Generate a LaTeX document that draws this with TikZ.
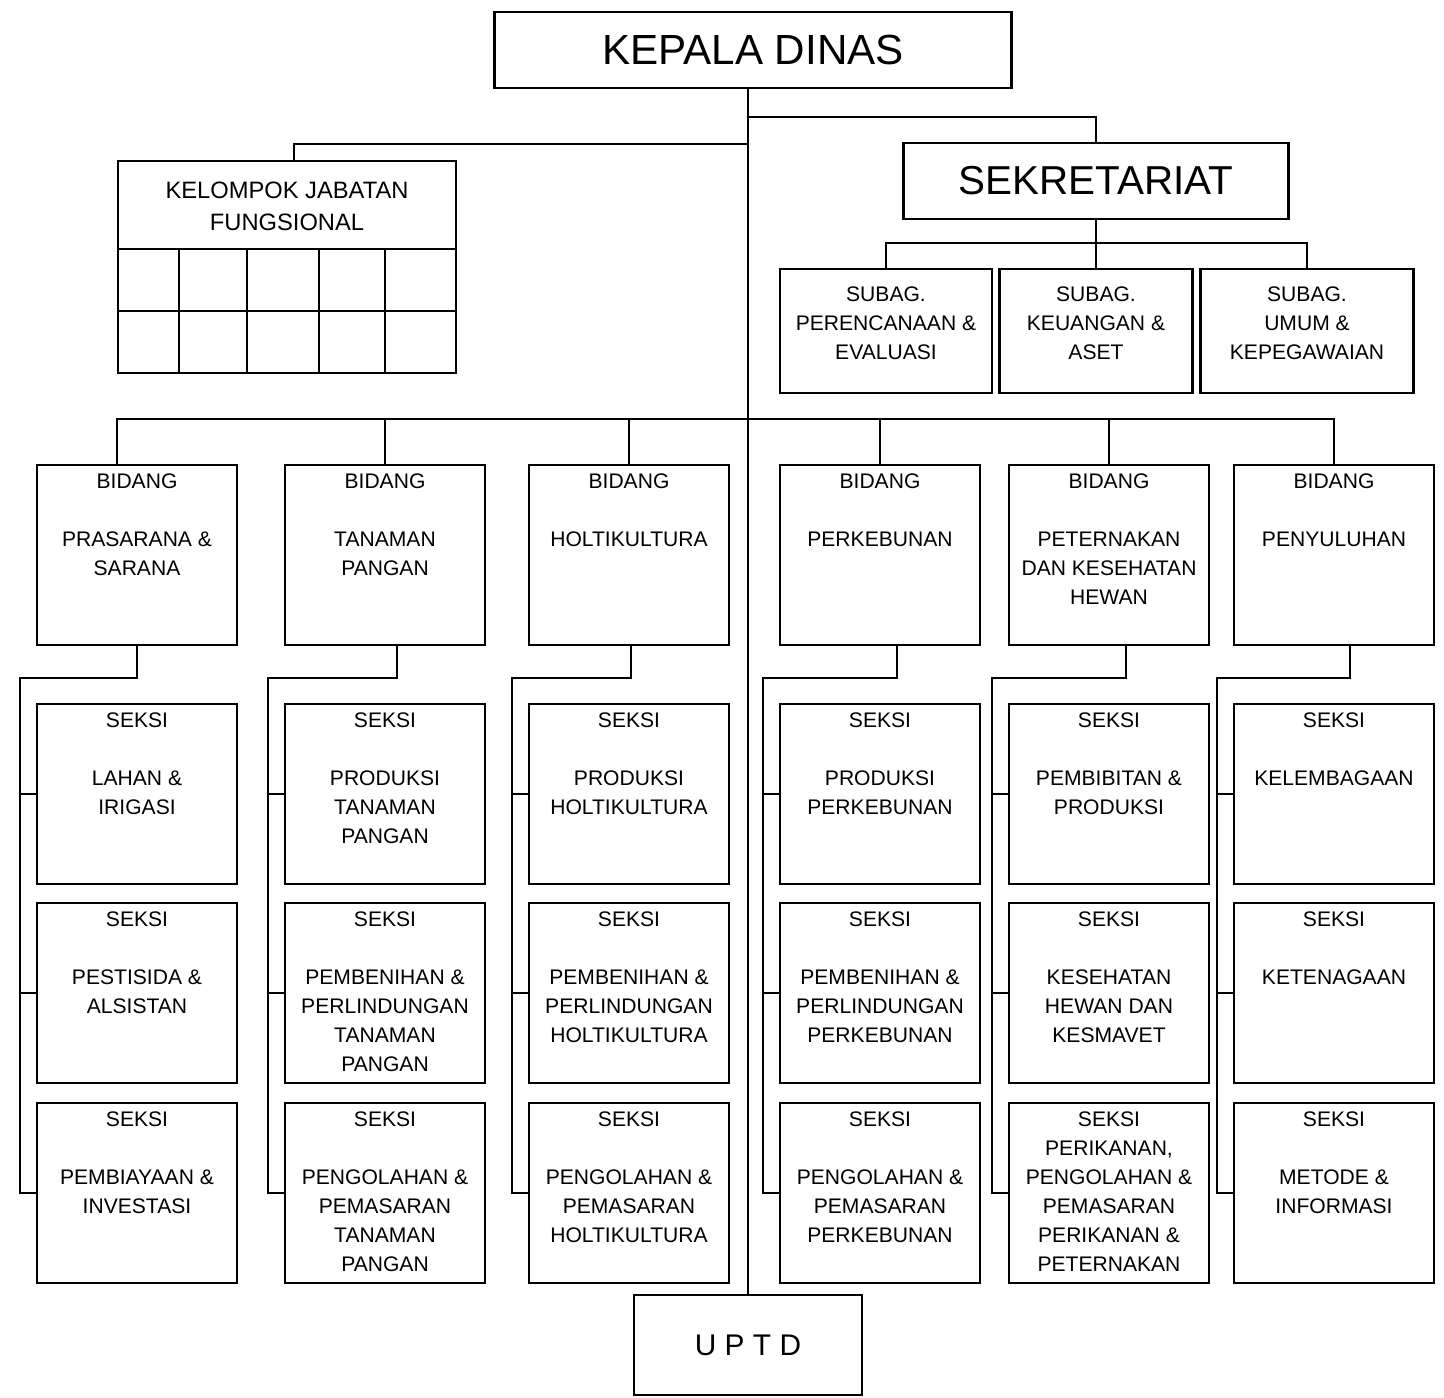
\documentclass[tikz,border=0pt]{standalone}
\usepackage{fontspec}
\setmainfont{Liberation Sans}

\begin{document}
\begin{tikzpicture}[
  x=0.02cm, y=-0.02cm,
  line width=1.4pt,
  utext/.style={anchor=north, yshift=-0.17cm, inner sep=0pt, align=center, font=\fontsize{12}{16.5}\selectfont},
  unit/.style={draw, minimum width=4cm, minimum height=3.6cm, inner sep=0pt, label={[utext]north:{#1}}},
  subag/.style={draw, minimum height=2.48cm, inner sep=0pt, label={[utext, yshift=-0.18cm]north:{#1}}},
  head/.style={draw, minimum height=1.52cm, inner sep=0pt},
]
\useasboundingbox (0,0) rectangle (1444,1398);

% Top level
\node[head, minimum width=10.34cm, font=\fontsize{24}{28}\selectfont] (kepala) at (753,50) {KEPALA DINAS};
\node[draw, minimum width=4.56cm, minimum height=2cm, font=\fontsize{17}{20}\selectfont] (uptd) at (748,1345) {U P T D};
\draw (kepala.south -| uptd.north) -- (uptd.north);

% Kelompok jabatan fungsional
\node[draw, minimum width=6.76cm, minimum height=4.24cm, inner sep=0pt,
  label={[utext, yshift=-0.24cm, font=\fontsize{13.5}{18.2}\selectfont]north:{KELOMPOK JABATAN\\FUNGSIONAL}}] (kjf) at (287,267) {};
\draw (kjf.north west) ++(0,89) -- ++(338,0)
      (kjf.north west) ++(0,151) -- ++(338,0)
      (kjf.north west) ++(62,89) -- ++(0,123)
      (kjf.north west) ++(130,89) -- ++(0,123)
      (kjf.north west) ++(202,89) -- ++(0,123)
      (kjf.north west) ++(268,89) -- ++(0,123);
\coordinate (jkjf) at (748,144);
\draw (jkjf) -| ([xshift=0.14cm]kjf.north);

% Sekretariat and subbagian
\node[head, minimum width=7.7cm, font=\fontsize{23}{27}\selectfont] (sekre) at (1096,181) {SEKRETARIAT};
\coordinate (jsek) at (748,117);
\draw (jsek) -| (sekre.north);

\node[subag={SUBAG.\\PERENCANAAN \&\\EVALUASI}, minimum width=4.24cm] (subren) at (886,331) {};
\node[subag={SUBAG.\\KEUANGAN \&\\ASET}, minimum width=3.86cm] (subkeu) at (1096,331) {};
\node[subag={SUBAG.\\UMUM \&\\KEPEGAWAIAN}, minimum width=4.26cm] (subum) at (1307,331) {};
\coordinate (jsub) at (1096,243);
\draw (sekre.south) -- (subkeu.north);
\draw (subren.north) |- (jsub) -| (subum.north);

% Bidang
\node[unit={BIDANG\\[16.5pt]PRASARANA \&\\SARANA}] (b1) at (137,555) {};
\node[unit={BIDANG\\[16.5pt]TANAMAN\\PANGAN}] (b2) at (385,555) {};
\node[unit={BIDANG\\[16.5pt]HOLTIKULTURA}] (b3) at (629,555) {};
\node[unit={BIDANG\\[16.5pt]PERKEBUNAN}] (b4) at (880,555) {};
\node[unit={BIDANG\\[16.5pt]PETERNAKAN\\DAN KESEHATAN\\HEWAN}] (b5) at (1109,555) {};
\node[unit={BIDANG\\[16.5pt]PENYULUHAN}] (b6) at (1334,555) {};

\coordinate (bus) at (748,419);
\draw (b1.north) ++(-20,0) |- (b6.north |- bus) -- (b6.north);
\draw (b2.north) -- (b2.north |- bus);
\draw (b3.north) -- (b3.north |- bus);
\draw (b4.north) -- (b4.north |- bus);
\draw (b5.north) -- (b5.north |- bus);

% Seksi - Prasarana & Sarana
\node[unit={SEKSI\\[16.5pt]LAHAN \&\\IRIGASI}] (s11) at (137,794) {};
\node[unit={SEKSI\\[16.5pt]PESTISIDA \&\\ALSISTAN}] (s12) at (137,993) {};
\node[unit={SEKSI\\[16.5pt]PEMBIAYAAN \&\\INVESTASI}] (s13) at (137,1193) {};
\draw (b1.south) -- ++(0,32) -| ([xshift=-0.32cm]s13.west) -- (s13.west);
\draw (s11.west) -- ++(-16,0);
\draw (s12.west) -- ++(-16,0);

% Seksi - Tanaman Pangan
\node[unit={SEKSI\\[16.5pt]PRODUKSI\\TANAMAN\\PANGAN}] (s21) at (385,794) {};
\node[unit={SEKSI\\[16.5pt]PEMBENIHAN \&\\PERLINDUNGAN\\TANAMAN\\PANGAN}] (s22) at (385,993) {};
\node[unit={SEKSI\\[16.5pt]PENGOLAHAN \&\\PEMASARAN\\TANAMAN\\PANGAN}] (s23) at (385,1193) {};
\draw (b2.south) ++(12,0) -- ++(0,32) -| ([xshift=-0.32cm]s23.west) -- (s23.west);
\draw (s21.west) -- ++(-16,0);
\draw (s22.west) -- ++(-16,0);

% Seksi - Holtikultura
\node[unit={SEKSI\\[16.5pt]PRODUKSI\\HOLTIKULTURA}] (s31) at (629,794) {};
\node[unit={SEKSI\\[16.5pt]PEMBENIHAN \&\\PERLINDUNGAN\\HOLTIKULTURA}] (s32) at (629,993) {};
\node[unit={SEKSI\\[16.5pt]PENGOLAHAN \&\\PEMASARAN\\HOLTIKULTURA}] (s33) at (629,1193) {};
\draw (b3.south) ++(2,0) -- ++(0,32) -| ([xshift=-0.32cm]s33.west) -- (s33.west);
\draw (s31.west) -- ++(-16,0);
\draw (s32.west) -- ++(-16,0);

% Seksi - Perkebunan
\node[unit={SEKSI\\[16.5pt]PRODUKSI\\PERKEBUNAN}] (s41) at (880,794) {};
\node[unit={SEKSI\\[16.5pt]PEMBENIHAN \&\\PERLINDUNGAN\\PERKEBUNAN}] (s42) at (880,993) {};
\node[unit={SEKSI\\[16.5pt]PENGOLAHAN \&\\PEMASARAN\\PERKEBUNAN}] (s43) at (880,1193) {};
\draw (b4.south) ++(17,0) -- ++(0,32) -| ([xshift=-0.32cm]s43.west) -- (s43.west);
\draw (s41.west) -- ++(-16,0);
\draw (s42.west) -- ++(-16,0);

% Seksi - Peternakan dan Kesehatan Hewan
\node[unit={SEKSI\\[16.5pt]PEMBIBITAN \&\\PRODUKSI}] (s51) at (1109,794) {};
\node[unit={SEKSI\\[16.5pt]KESEHATAN\\HEWAN DAN\\KESMAVET}] (s52) at (1109,993) {};
\node[unit={SEKSI\\PERIKANAN,\\PENGOLAHAN \&\\PEMASARAN\\PERIKANAN \&\\PETERNAKAN}] (s53) at (1109,1193) {};
\draw (b5.south) ++(17,0) -- ++(0,32) -| ([xshift=-0.32cm]s53.west) -- (s53.west);
\draw (s51.west) -- ++(-16,0);
\draw (s52.west) -- ++(-16,0);

% Seksi - Penyuluhan
\node[unit={SEKSI\\[16.5pt]KELEMBAGAAN}] (s61) at (1334,794) {};
\node[unit={SEKSI\\[16.5pt]KETENAGAAN}] (s62) at (1334,993) {};
\node[unit={SEKSI\\[16.5pt]METODE \&\\INFORMASI}] (s63) at (1334,1193) {};
\draw (b6.south) ++(16,0) -- ++(0,32) -| ([xshift=-0.32cm]s63.west) -- (s63.west);
\draw (s61.west) -- ++(-16,0);
\draw (s62.west) -- ++(-16,0);

\end{tikzpicture}
\end{document}
